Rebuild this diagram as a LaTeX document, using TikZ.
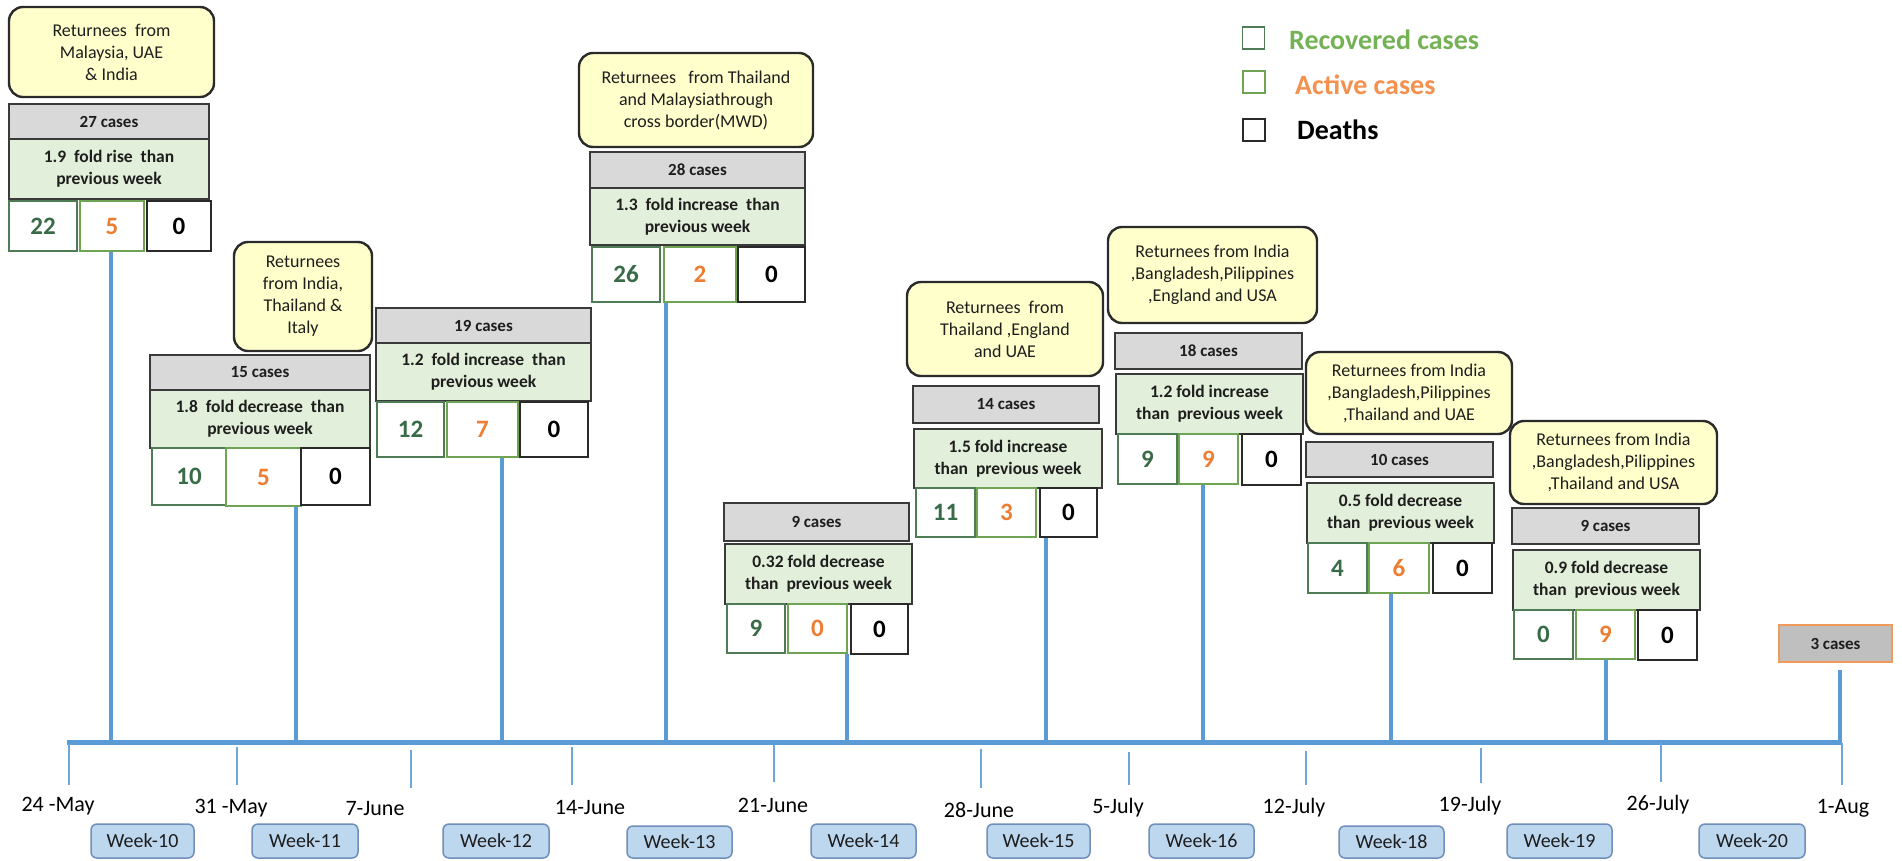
\documentclass[tikz,border=0pt]{standalone}
\usepackage{fontspec}
\setmainfont{Carlito}
\newcommand{\fsz}[2]{\fontsize{#1}{#2}\selectfont}
\newcommand{\mybox}[6]{\node[#6, minimum width={#4-#2}, minimum height={#5-#3}] (#1) at ({(#2+#4)/2},{(#3+#5)/2})}
\definecolor{yelfill}{HTML}{FFFFCC}
\definecolor{ybord}{HTML}{2B2B2B}
\definecolor{hdrfill}{HTML}{D9D9D9}
\definecolor{hbord}{HTML}{3A3A3A}
\definecolor{foldfill}{HTML}{E2EFDA}
\definecolor{txt}{HTML}{1E1E1E}
\definecolor{recbord}{HTML}{4E7D55}
\definecolor{actbord}{HTML}{6FA552}
\definecolor{dthbord}{HTML}{2A2A2A}
\definecolor{recnum}{HTML}{386B47}
\definecolor{actnum}{HTML}{ED7D31}
\definecolor{tlblue}{HTML}{5B9BD5}
\definecolor{tickblue}{HTML}{6FA5DA}
\definecolor{wfill}{HTML}{BDD7EE}
\definecolor{wbord}{HTML}{6F8FBA}
\definecolor{lastfill}{HTML}{BFBFBF}
\definecolor{lastbord}{HTML}{F29A5C}
\definecolor{legrec}{HTML}{74B255}
\definecolor{legact}{HTML}{F5914F}
\begin{document}
\begin{tikzpicture}[x=1pt,y=-1pt,
  yel/.style={draw=ybord, line width=2.4pt, fill=yelfill, rounded corners=14pt, align=center, inner sep=0pt, font=\fsz{18}{22}, text=txt},
  hdr/.style={draw=hbord, line width=1.8pt, fill=hdrfill, inner sep=0pt, font=\bfseries\fsz{17}{21}, text=txt},
  fold/.style={draw=hbord, line width=1.8pt, fill=foldfill, align=center, inner sep=0pt, font=\bfseries\fsz{17.5}{22}, text=txt},
  cellbase/.style={fill=white, line width=1.5pt, inner sep=0pt, font=\bfseries\fsz{25}{30}},
  rec/.style={cellbase, draw=recbord, text=recnum},
  act/.style={cellbase, draw=actbord, text=actnum},
  dth/.style={cellbase, draw=dthbord, text=black},
  stemln/.style={draw=tlblue, line width=4pt},
  tline/.style={draw=tlblue, line width=5pt},
  tickln/.style={draw=tickblue, line width=2.2pt},
  datelbl/.style={font=\fsz{22}{26}, text=black, inner sep=0pt},
  week/.style={draw=wbord, fill=wfill, line width=1.5pt, rounded corners=6pt, inner sep=0pt, font=\fsz{20}{24}, text=txt},
  lastbox/.style={draw=lastbord, fill=lastfill, line width=2pt, inner sep=0pt, font=\bfseries\fsz{17}{21}, text=txt},
  legsq/.style={line width=1.6pt, minimum size=22pt, inner sep=0pt},
  legtxt/.style={anchor=west, inner sep=0pt, font=\bfseries\fsz{28}{32}}
]
\fill[white] (0,0) rectangle (1902,860);
\useasboundingbox (0,0) rectangle (1902,860);

% ---------- timeline ----------
\coordinate (tl) at (67,742);
\coordinate (tr) at (1842,742);
\draw[tline] (tl) -- (tr);

% ---------- week 10 ----------
\mybox{b1y}{9}{7}{214}{97}{yel}{Returnees\ \ from\\Malaysia, UAE\\\& India};
\mybox{b1h}{9}{104}{209}{139}{hdr}{27 cases};
\mybox{b1f}{9}{139}{209}{199}{fold}{1.9\ \ fold rise\ \ than\\previous week};
\mybox{b1c1}{9}{201}{77}{251}{rec}{22};
\mybox{b1c2}{80}{201}{144}{251}{act}{5};
\mybox{b1c3}{147}{201}{211}{251}{dth}{0};

% ---------- week 11 ----------
\mybox{b2y}{234}{242}{372}{351}{yel}{Returnees\\from India,\\Thailand \&\\Italy};
\mybox{b2h}{150}{355}{370}{390}{hdr}{15 cases};
\mybox{b2f}{150}{390}{370}{448}{fold}{1.8\ \ fold decrease\ \ than\\previous week};
\mybox{b2c1}{152}{448}{226}{505}{rec}{10};
\mybox{b2c2}{226}{448}{301}{506}{act}{5};
\mybox{b2c3}{301}{448}{370}{505}{dth}{0};

% ---------- week 12 ----------
\mybox{b3h}{376}{308}{591}{343}{hdr}{19 cases};
\mybox{b3f}{376}{343}{591}{401}{fold}{1.2\ \ fold increase\ \ than\\previous week};
\mybox{b3c1}{377}{402}{444}{457}{rec}{12};
\mybox{b3c2}{447}{402}{518}{457}{act}{7};
\mybox{b3c3}{520}{402}{588}{457}{dth}{0};

% ---------- week 13 ----------
\mybox{b4y}{579}{53}{813}{147}{yel}{Returnees\ \ \ from Thailand\\and Malaysiathrough\\cross border(MWD)};
\mybox{b4h}{590}{152}{805}{188}{hdr}{28 cases};
\mybox{b4f}{590}{188}{805}{245}{fold}{1.3\ \ fold increase\ \ than\\previous week};
\mybox{b4c1}{592}{247}{660}{302}{rec}{26};
\mybox{b4c2}{664}{247}{736}{302}{act}{2};
\mybox{b4c3}{738}{247}{805}{302}{dth}{0};

% ---------- week 14 ----------
\mybox{b5h}{724}{503}{909}{541}{hdr}{9 cases};
\mybox{b5f}{725}{544}{912}{604}{fold}{0.32 fold decrease\\than\ \ previous week};
\mybox{b5c1}{727}{604}{785}{653}{rec}{9};
\mybox{b5c2}{788}{604}{847}{653}{act}{0};
\mybox{b5c3}{851}{604}{908}{654}{dth}{0};

% ---------- week 15 ----------
\mybox{b6y}{907}{282}{1103}{376}{yel}{Returnees\ \ from\\Thailand ,England\\and UAE};
\mybox{b6h}{913}{386}{1099}{423}{hdr}{14 cases};
\mybox{b6f}{914}{429}{1102}{488}{fold}{1.5 fold increase\\than\ \ previous week};
\mybox{b6c1}{916}{488}{975}{537}{rec}{11};
\mybox{b6c2}{977}{488}{1036}{537}{act}{3};
\mybox{b6c3}{1040}{488}{1097}{537}{dth}{0};

% ---------- week 16 ----------
\mybox{b7y}{1108}{227}{1317}{323}{yel}{Returnees from India\\,Bangladesh,Pilippines\\,England and USA};
\mybox{b7h}{1115}{333}{1302}{369}{hdr}{18 cases};
\mybox{b7f}{1116}{374}{1303}{434}{fold}{1.2 fold increase\\than\ \ previous week};
\mybox{b7c1}{1118}{434}{1177}{484}{rec}{9};
\mybox{b7c2}{1179}{434}{1238}{484}{act}{9};
\mybox{b7c3}{1242}{434}{1301}{485}{dth}{0};

% ---------- week 18 ----------
\mybox{b8y}{1306}{352}{1512}{434}{yel}{Returnees from India\\,Bangladesh,Pilippines\\,Thailand and UAE};
\mybox{b8h}{1306}{442}{1493}{477}{hdr}{10 cases};
\mybox{b8f}{1307}{483}{1494}{543}{fold}{0.5 fold decrease\\than\ \ previous week};
\mybox{b8c1}{1308}{543}{1367}{593}{rec}{4};
\mybox{b8c2}{1369}{543}{1429}{593}{act}{6};
\mybox{b8c3}{1433}{543}{1492}{593}{dth}{0};

% ---------- week 19 ----------
\mybox{b9y}{1510}{421}{1717}{504}{yel}{Returnees from India\\,Bangladesh,Pilippines\\,Thailand and USA};
\mybox{b9h}{1512}{508}{1699}{544}{hdr}{9 cases};
\mybox{b9f}{1513}{550}{1700}{610}{fold}{0.9 fold decrease\\than\ \ previous week};
\mybox{b9c1}{1514}{610}{1573}{659}{rec}{0};
\mybox{b9c2}{1576}{610}{1635}{659}{act}{9};
\mybox{b9c3}{1638}{610}{1697}{660}{dth}{0};

% ---------- week 20 ----------
\mybox{b10}{1779}{625}{1892}{662}{lastbox}{3 cases};

% ---------- stems ----------
\coordinate (s1) at (111,742);
\coordinate (s2) at (296,742);
\coordinate (s3) at (502,742);
\coordinate (s4) at (666,742);
\coordinate (s5) at (847,742);
\coordinate (s6) at (1046,742);
\coordinate (s7) at (1203,742);
\coordinate (s8) at (1391,742);
\coordinate (s9) at (1606,742);
\coordinate (s10) at (1840,742);
\draw[stemln] (b1c2.south -| s1) -- (s1);
\draw[stemln] (b2c2.south -| s2) -- (s2);
\draw[stemln] (b3c2.south -| s3) -- (s3);
\draw[stemln] (b4c2.south -| s4) -- (s4);
\draw[stemln] (b5c2.south -| s5) -- (s5);
\draw[stemln] (b6c3.south -| s6) -- (s6);
\draw[stemln] (b7c2.south -| s7) -- (s7);
\draw[stemln] (b8c2.south -| s8) -- (s8);
\draw[stemln] (b9c2.south -| s9) -- (s9);
\draw[stemln] ([yshift=-7pt]b10.south -| s10) -- (s10);

% ---------- ticks ----------
\foreach \tx/\ta/\tb in {69/744/785, 237/747/785, 411/750/788, 572/747/785, 774/745/782, 981/749/788, 1129/752/785, 1306/751/785, 1481/748/783, 1661/743/782, 1842/743/785}{
  \draw[tickln] (\tx,\ta) -- (\tx,\tb);
}

% ---------- dates ----------
\node[datelbl] (d1) at (58,806) {24 -May};
\node[datelbl] (d2) at (231,808) {31 -May};
\node[datelbl] (d3) at (375,809) {7-June};
\node[datelbl] (d4) at (590,807) {14-June};
\node[datelbl] (d5) at (773,805) {21-June};
\node[datelbl] (d6) at (979,810) {28-June};
\node[datelbl] (d7) at (1118,808) {5-July};
\node[datelbl] (d8) at (1294,808) {12-July};
\node[datelbl] (d9) at (1470,806) {19-July};
\node[datelbl] (d10) at (1658,805) {26-July};
\node[datelbl] (d11) at (1843,808) {1-Aug};

% ---------- week labels ----------
\mybox{w10}{91}{824}{194}{858}{week}{Week-10};
\mybox{w11}{252}{824}{358}{858}{week}{Week-11};
\mybox{w12}{443}{824}{549}{858}{week}{Week-12};
\mybox{w13}{627}{826}{732}{858}{week}{Week-13};
\mybox{w14}{811}{824}{916}{858}{week}{Week-14};
\mybox{w15}{987}{824}{1090}{858}{week}{Week-15};
\mybox{w16}{1149}{824}{1254}{858}{week}{Week-16};
\mybox{w18}{1339}{826}{1444}{858}{week}{Week-18};
\mybox{w19}{1507}{824}{1612}{858}{week}{Week-19};
\mybox{w20}{1699}{824}{1805}{858}{week}{Week-20};

% ---------- legend ----------
\node[legsq, draw=recbord] (lg1) at (1253.5,38) {};
\node[legsq, draw=actbord] (lg2) at (1254,82) {};
\node[legsq, draw=dthbord] (lg3) at (1254,130) {};
\node[legtxt, text=legrec] (lt1) at (1289,40) {Recovered cases};
\node[legtxt, text=legact] (lt2) at (1295,85) {Active cases};
\node[legtxt, text=black] (lt3) at (1297,130) {Deaths};
\end{tikzpicture}
\end{document}
